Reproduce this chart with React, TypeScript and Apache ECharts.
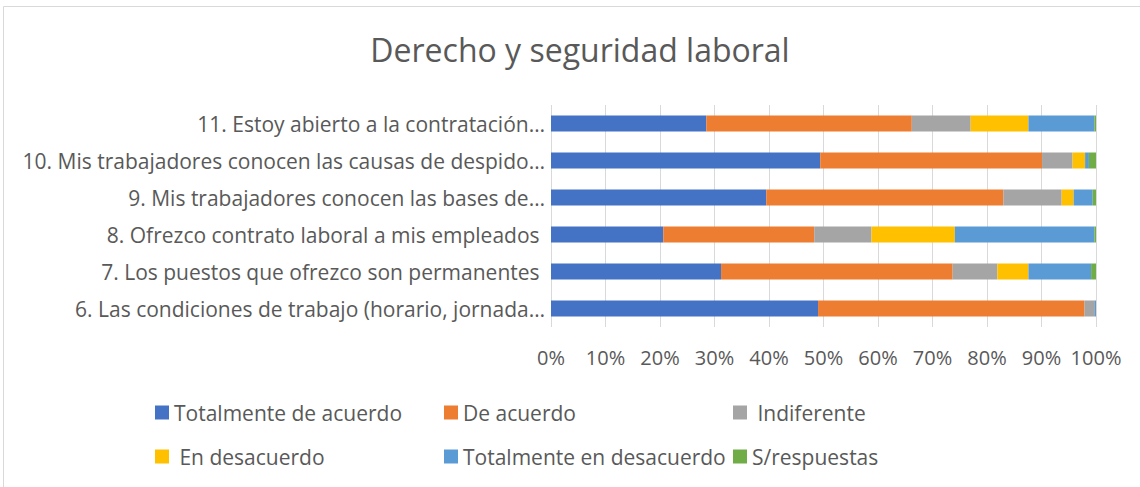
import React, { useEffect, useRef } from "react";
import * as echarts from "echarts";

const categories = [
  "6. Las condiciones de trabajo (horario, jornada…",
  "7. Los puestos que ofrezco son permanentes ",
  "8. Ofrezco contrato laboral a mis empleados ",
  "9. Mis trabajadores conocen las bases de…",
  "10. Mis trabajadores conocen las causas de despido…",
  "11. Estoy abierto a la contratación…",
];

const seriesNames = [
  "Totalmente de acuerdo",
  "De acuerdo",
  " Indiferente",
  " En desacuerdo",
  "Totalmente en desacuerdo",
  "S/respuestas",
];

const totalmenteDeAcuerdo = [49.0, 31.2, 20.6, 39.5, 49.4, 28.5];
const deAcuerdo = [48.9, 42.5, 27.7, 43.5, 40.7, 37.7];
const indiferente = [1.9, 8.2, 10.5, 10.7, 5.6, 10.8];
const enDesacuerdo = [0, 5.7, 15.3, 2.2, 2.3, 10.6];
const totalmenteEnDesacuerdo = [0.2, 11.5, 25.6, 3.5, 0.7, 12.1];
const sinRespuestas = [0, 0.9, 0.3, 0.6, 1.3, 0.3];

const xTicks = [0, 10, 20, 30, 40, 50, 60, 70, 80, 90, 100];

const colors = ["#4472C4", "#ED7D31", "#A5A5A5", "#FFC000", "#5B9BD5", "#70AD47"];
const values = [
  totalmenteDeAcuerdo,
  deAcuerdo,
  indiferente,
  enDesacuerdo,
  totalmenteEnDesacuerdo,
  sinRespuestas,
];

const FONT = "'Open Sans', sans-serif";
const TXT = "#595959";

export default function App() {
  const ref = useRef<HTMLDivElement>(null);
  useEffect(() => {
    if (!ref.current) return;
    const chart = echarts.init(ref.current, null, { renderer: "svg" });
    const legendCols = [
      { left: 155, data: [seriesNames[0], seriesNames[3]] },
      { left: 444, data: [seriesNames[1], seriesNames[4]] },
      { left: 733, data: [seriesNames[2], seriesNames[5]] },
    ];
    chart.setOption({
      animation: false,
      textStyle: { fontFamily: FONT, color: TXT },
      title: {
        text: "Derecho y seguridad laboral",
        left: 580,
        top: 33,
        textAlign: "center",
        padding: 0,
        textStyle: { fontFamily: FONT, fontSize: 32, fontWeight: "normal", color: TXT },
      },
      graphic: [
        {
          type: "rect",
          shape: { x: 3.5, y: 6.5, width: 1150, height: 500 },
          style: { fill: "none", stroke: "#d9d9d9", lineWidth: 1 },
          silent: true,
        },
      ],
      legend: legendCols.map((c) => ({
        orient: "vertical",
        left: c.left,
        top: 402,
        padding: 0,
        itemGap: 23,
        itemWidth: 14,
        itemHeight: 14,
        icon: "rect",
        data: c.data,
        selectedMode: false,
        textStyle: { fontFamily: FONT, fontSize: 21, color: TXT },
      })),
      grid: { left: 551, right: 44, top: 105, bottom: 160, containLabel: false },
      xAxis: {
        type: "value",
        min: xTicks[0],
        max: xTicks[xTicks.length - 1],
        interval: 10,
        axisLine: { show: false },
        axisTick: { show: false },
        splitLine: { lineStyle: { color: "#d9d9d9", width: 1 } },
        axisLabel: {
          formatter: "{value}%",
          margin: 20,
          fontFamily: FONT,
          fontSize: 20,
          color: TXT,
        },
      },
      yAxis: {
        type: "category",
        data: categories,
        axisLine: { show: false },
        axisTick: { show: false },
        axisLabel: { margin: 6, fontFamily: FONT, fontSize: 21, color: TXT },
      },
      series: seriesNames.map((name, i) => ({
        name,
        type: "bar",
        stack: "total",
        data: values[i],
        barWidth: 16,
        itemStyle: { color: colors[i] },
      })),
    });
    return () => chart.dispose();
  }, []);
  return (
    <div
      ref={ref}
      style={{ position: "fixed", left: 0, top: 0, width: 1140, height: 487, background: "#fff" }}
    />
  );
}
